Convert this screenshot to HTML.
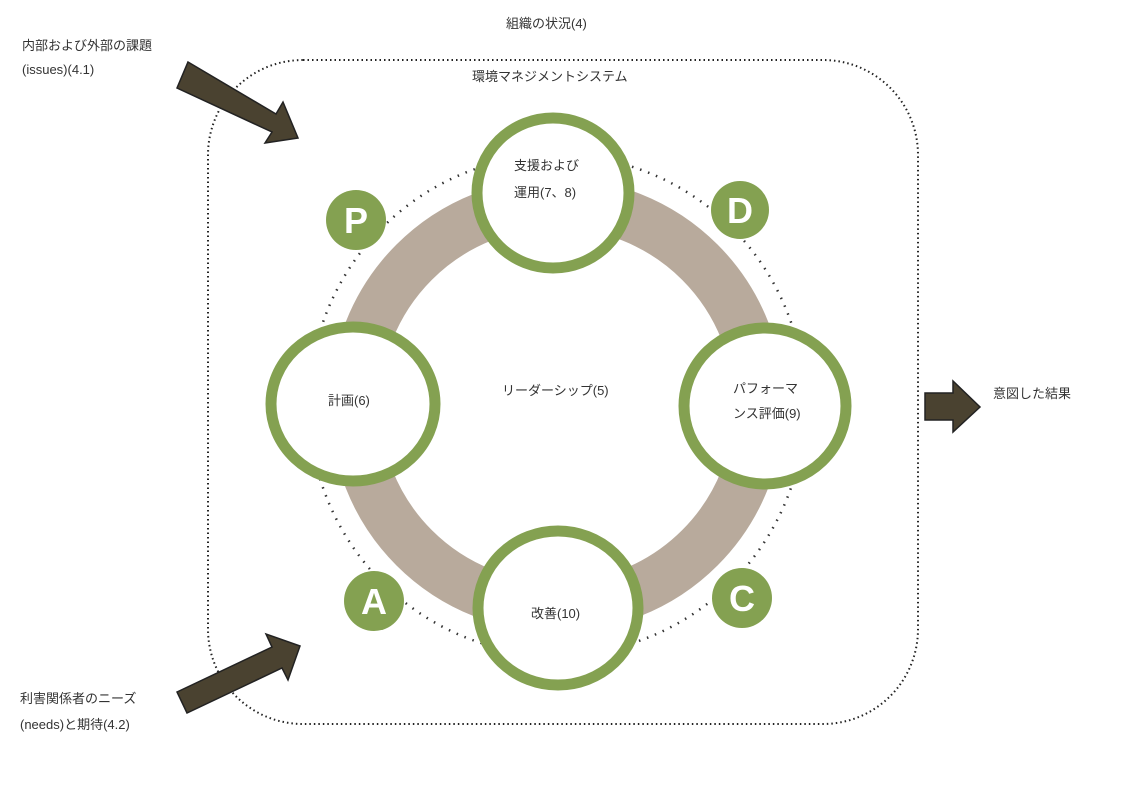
<!DOCTYPE html>
<html><head><meta charset="utf-8"><style>
html,body{margin:0;padding:0;background:#fff;}
svg text{font-family:"Liberation Sans","Noto Sans CJK JP",sans-serif;fill:#333;font-size:13px;}
</style></head><body>
<svg width="1122" height="798" viewBox="0 0 1122 798" xmlns="http://www.w3.org/2000/svg">
<rect x="208" y="60" width="710" height="664" rx="95" ry="95" fill="none" stroke="#222" stroke-width="2" stroke-dasharray="1.5 3"/>
<ellipse cx="557" cy="405" rx="248" ry="250" fill="none" stroke="#333" stroke-width="2.5" stroke-dasharray="1.5 7"/>
<circle cx="557" cy="405" r="202" fill="none" stroke="#b8aa9c" stroke-width="50"/>
<g fill="#fff" stroke="#84a151" stroke-width="11">
<ellipse cx="553" cy="193" rx="76" ry="75"/>
<ellipse cx="353" cy="404" rx="82" ry="77"/>
<ellipse cx="765" cy="406" rx="81" ry="78"/>
<ellipse cx="558" cy="608" rx="80" ry="77"/>
</g>
<g fill="#84a151">
<circle cx="356" cy="220" r="30"/>
<circle cx="740" cy="210" r="29"/>
<circle cx="374" cy="601" r="30"/>
<circle cx="742" cy="598" r="30"/>
</g>
<g font-family="Liberation Sans,sans-serif" font-weight="bold" font-size="36" fill="#fff" text-anchor="middle" style="fill:#fff;font-size:36px;font-weight:bold">
<text x="356" y="233" style="fill:#fff;font-size:36px">P</text>
<text x="740" y="223" style="fill:#fff;font-size:36px">D</text>
<text x="374" y="614" style="fill:#fff;font-size:36px">A</text>
<text x="742" y="611" style="fill:#fff;font-size:36px">C</text>
</g>
<g fill="#4a4230" stroke="#222" stroke-width="1.5">
<polygon points="188,62 276,114 283,102 298,138 265,143 272,132 177,88"/>
<polygon points="177,692 272,647 266,634 300,646 288,680 282,668 187,713"/>
<polygon points="925,393 953,393 953,381 980,407 953,432 953,420 925,420"/>
</g>
<text x="506" y="28">組織の状況(4)</text>
<text x="22" y="50">内部および外部の課題</text>
<text x="22" y="74">(issues)(4.1)</text>
<text x="472" y="81">環境マネジメントシステム</text>
<text x="514" y="170">支援および</text>
<text x="514" y="197">運用(7、8)</text>
<text x="328" y="405">計画(6)</text>
<text x="502" y="395">リーダーシップ(5)</text>
<text x="733" y="393">パフォーマ</text>
<text x="733" y="418">ンス評価(9)</text>
<text x="531" y="618">改善(10)</text>
<text x="993" y="398">意図した結果</text>
<text x="20" y="703">利害関係者のニーズ</text>
<text x="20" y="729">(needs)と期待(4.2)</text>
</svg>
</body></html>
